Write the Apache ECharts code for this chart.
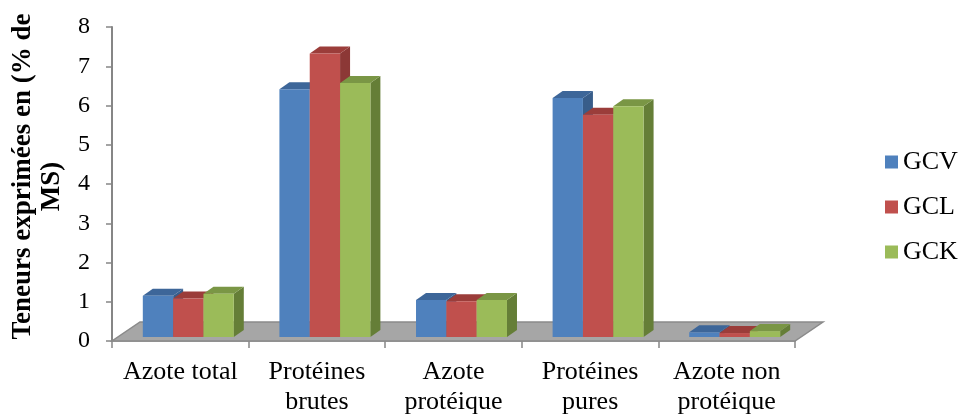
<!DOCTYPE html>
<html>
<head>
<meta charset="utf-8">
<script src="https://cdn.jsdelivr.net/npm/echarts@6/dist/echarts.min.js"></script>
<style>
  html, body { margin: 0; padding: 0; background: #fff; }
  #chart { width: 963px; height: 418px; }
</style>
</head>
<body>
<div id="chart"></div>
<script>
// Categories and values (% of dry matter)
const categories = ['Azote total', 'Protéines\nbrutes', 'Azote\nprotéique', 'Protéines\npures', 'Azote non\nprotéique'];
const seriesNames = ['GCV', 'GCL', 'GCK'];
const gcv = [1.05, 6.31, 0.94, 6.09, 0.12];
const gcl = [0.98, 7.22, 0.91, 5.66, 0.10];
const gck = [1.10, 6.47, 0.94, 5.88, 0.15];
const yTicks = [0, 1, 2, 3, 4, 5, 6, 7, 8];

const SERIF = "'Liberation Serif', 'Times New Roman', serif";

// face colours: front, top, side
const palette = [
  { front: '#4F81BD', top: '#3D6699', side: '#385D8A' },
  { front: '#C0504D', top: '#9B3D3A', side: '#8C3836' },
  { front: '#9BBB59', top: '#7A9645', side: '#657E37' }
];

// pseudo-3D geometry (pixels)
const BAR_FRAC = 0.222;   // bar width as fraction of category width
const FRONT_DX = 8, FRONT_DY = -4;   // bar front plane offset from the axis plane
const DEPTH_DX = 10, DEPTH_DY = -7;  // bar depth
const FLOOR_DX = 28, FLOOR_DY = -19; // floor depth

function makeBox(idx) {
  return function (params, api) {
    const cat = api.value(0), v = api.value(1);
    const base = api.coord([cat, 0]);
    const top = api.coord([cat, v]);
    const cw = api.size([1, 0])[0];
    const bw = cw * BAR_FRAC;
    const x0 = base[0] - 1.5 * bw + idx * bw + FRONT_DX;
    const x1 = x0 + bw;
    const yb = base[1] + FRONT_DY;
    const yt = top[1] + FRONT_DY;
    const c = palette[idx];
    return {
      type: 'group',
      children: [
        { type: 'polygon', shape: { points: [[x1, yb], [x1 + DEPTH_DX, yb + DEPTH_DY], [x1 + DEPTH_DX, yt + DEPTH_DY], [x1, yt]] },
          style: { fill: c.side } },
        { type: 'polygon', shape: { points: [[x0, yt], [x1, yt], [x1 + DEPTH_DX, yt + DEPTH_DY], [x0 + DEPTH_DX, yt + DEPTH_DY]] },
          style: { fill: c.top } },
        { type: 'rect', shape: { x: x0, y: yt, width: bw, height: yb - yt },
          style: { fill: c.front } }
      ]
    };
  };
}

function renderFloor(params, api) {
  const cs = params.coordSys;
  const xl = cs.x, xr = cs.x + cs.width, yf = cs.y + cs.height;
  return {
    type: 'polygon',
    shape: { points: [[xl, yf], [xr, yf], [xr + FLOOR_DX, yf + FLOOR_DY], [xl + FLOOR_DX, yf + FLOOR_DY]] },
    style: { fill: '#A6A6A6', stroke: '#8A8A8A', lineWidth: 1.5 }
  };
}

const valueSets = [gcv, gcl, gck];
const series = [{
  type: 'custom',
  name: 'floor',
  renderItem: renderFloor,
  data: [[0, 0]],
  z: 1,
  silent: true
}];
seriesNames.forEach((name, i) => {
  series.push({
    type: 'custom',
    name: name,
    renderItem: makeBox(i),
    itemStyle: { color: palette[i].front },
    data: valueSets[i].map((v, k) => [k, v]),
    z: 2 + i
  });
});

const chart = echarts.init(document.getElementById('chart'), null, { renderer: 'canvas' });
chart.setOption({
  animation: false,
  backgroundColor: '#ffffff',
  grid: { left: 112, right: 168, top: 27, bottom: 77 },
  legend: {
    data: seriesNames,
    orient: 'vertical',
    left: 885,
    top: 147,
    padding: 0,
    icon: 'rect',
    itemWidth: 13,
    itemHeight: 13,
    itemGap: 15,
    textStyle: { fontFamily: SERIF, fontSize: 26, color: '#000', lineHeight: 30 }
  },
  xAxis: {
    type: 'category',
    data: categories,
    boundaryGap: true,
    axisLine: { lineStyle: { color: '#868686', width: 1.5 } },
    axisTick: { show: true, length: 7, lineStyle: { color: '#868686', width: 1.5 } },
    axisLabel: { interval: 0, fontFamily: SERIF, fontSize: 26, lineHeight: 30, color: '#000', margin: 16 }
  },
  yAxis: {
    type: 'value',
    min: yTicks[0],
    max: yTicks[yTicks.length - 1],
    interval: 1,
    splitLine: { show: false },
    axisLine: { show: true, lineStyle: { color: '#868686', width: 2 } },
    axisTick: { show: true, length: 6, lineStyle: { color: '#868686', width: 1.5 } },
    axisLabel: { fontFamily: SERIF, fontSize: 24, color: '#000', margin: 22 }
  },
  graphic: [
    { type: 'text', x: 23, y: 176.5, rotation: Math.PI / 2,
      style: { text: 'Teneurs exprimées en (% de', font: 'bold 27px ' + SERIF, fill: '#000', align: 'center', verticalAlign: 'middle' } },
    { type: 'text', x: 52, y: 186.5, rotation: Math.PI / 2,
      style: { text: 'MS)', font: 'bold 27px ' + SERIF, fill: '#000', align: 'center', verticalAlign: 'middle' } }
  ],
  series: series
});
</script>
</body>
</html>
